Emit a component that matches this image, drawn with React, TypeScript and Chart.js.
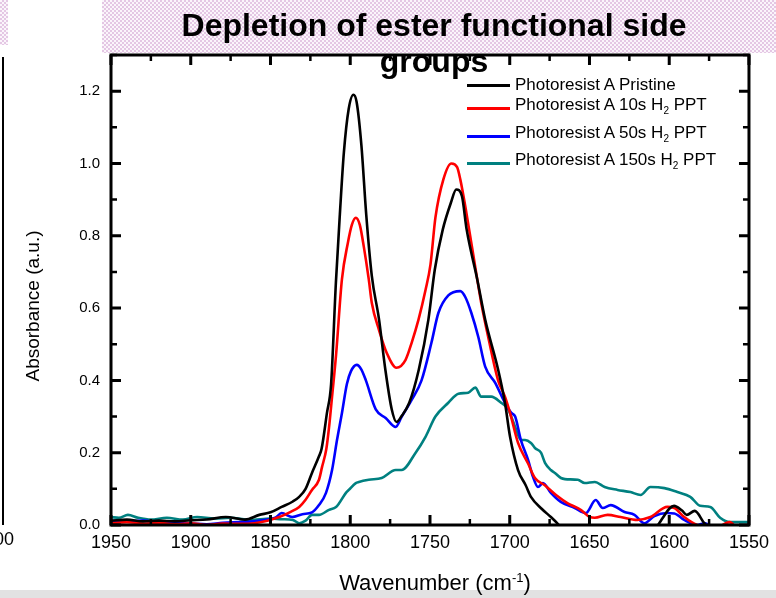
import React, { useEffect, useRef } from "react";
import { Chart, registerables } from "chart.js";

Chart.register(...registerables);

// ---- data (wavenumber cm^-1, absorbance a.u.) ----
const pristineWn = [
  1950, 1940, 1930, 1920, 1910, 1900, 1890, 1878, 1866, 1857,
  1850, 1843, 1836, 1832, 1828, 1824, 1819.6, 1818, 1814.6, 1812,
  1809, 1806.5, 1804, 1801, 1798, 1796, 1793, 1790, 1786.5, 1782,
  1778, 1774, 1771, 1768, 1763, 1757, 1751, 1747, 1742, 1737,
  1733.5, 1730, 1727, 1720.4, 1715.4, 1707.3, 1703, 1699.8, 1694.8, 1690,
  1686.7, 1680, 1674.2, 1670, 1665, 1640, 1615, 1608, 1604, 1600,
  1597, 1592, 1589, 1584, 1578, 1572, 1550,
];
const pristineAbs = [
  0.012, 0.015, 0.01, 0.012, 0.01, 0.013, 0.015, 0.022, 0.015, 0.028,
  0.035, 0.05, 0.065, 0.078, 0.1, 0.144, 0.19, 0.21, 0.31, 0.39,
  0.67, 0.86, 1.03, 1.15, 1.19, 1.17, 1.05, 0.86, 0.69, 0.57,
  0.43, 0.32, 0.285, 0.3, 0.338, 0.43, 0.568, 0.706, 0.817, 0.89,
  0.928, 0.91, 0.817, 0.68, 0.568, 0.43, 0.338, 0.244, 0.152, 0.11,
  0.078, 0.045, 0.022, 0.004, -0.02, -0.03, -0.02, -0.005, 0.02, 0.045,
  0.053, 0.04, 0.028, 0.039, 0.005, -0.02, -0.03,
];

const h10Wn = [
  1950, 1940, 1930, 1920, 1910, 1900, 1890, 1880, 1870, 1860,
  1852, 1844.5, 1838, 1832, 1828, 1824, 1819.6, 1817.7, 1815, 1813.3,
  1811.4, 1808.9, 1805.2, 1801.5, 1799, 1796.5, 1794, 1791.5, 1788.4, 1786.5,
  1782, 1777.1, 1771, 1765.3, 1761.5, 1757.2, 1752.8, 1749.7, 1746.6, 1741.6,
  1736.6, 1733, 1731, 1727.2, 1720.4, 1717.9, 1713.5, 1707.3, 1703, 1699.8,
  1694.8, 1688.5, 1684.2, 1678, 1671, 1663.6, 1655.5, 1649.8, 1646.7, 1638.6,
  1630.5, 1620, 1611.8, 1601.2, 1596.8, 1590.6, 1582.5, 1572, 1562, 1557,
  1550,
];
const h10Abs = [
  0.005, 0.008, 0.004, 0.006, 0.002, 0.005, 0.0, 0.004, 0.003, 0.005,
  0.012, 0.022, 0.035, 0.05, 0.07, 0.097, 0.125, 0.16, 0.21, 0.27,
  0.355, 0.47, 0.68, 0.78, 0.83, 0.85, 0.83, 0.77, 0.68, 0.615,
  0.54, 0.476, 0.435, 0.457, 0.504, 0.568, 0.65, 0.72, 0.85, 0.956,
  1.0, 0.99, 0.956, 0.864, 0.68, 0.615, 0.52, 0.4, 0.355, 0.31,
  0.227, 0.17, 0.13, 0.11, 0.083, 0.06, 0.042, 0.022, 0.02, 0.028,
  0.022, 0.014, 0.022, 0.05, 0.047, 0.022, 0.0, -0.01, 0.008, -0.01,
  -0.01,
];

const h50Wn = [
  1950, 1940, 1930, 1920, 1910, 1900, 1890, 1880, 1870, 1860,
  1852, 1847, 1843, 1836.4, 1830, 1824, 1819.6, 1815.2, 1811.4, 1808.3,
  1805.2, 1802.1, 1799.6, 1795.9, 1793, 1790.2, 1784, 1777.8, 1771.5, 1767.8,
  1761.5, 1755.3, 1749.1, 1744.7, 1738.5, 1731, 1727.8, 1724.1, 1719.7, 1715.4,
  1709.1, 1703, 1699, 1696.6, 1693, 1688.5, 1685.4, 1682.3, 1679.2, 1674.2,
  1668, 1659.2, 1652.3, 1646.1, 1641.7, 1636.7, 1628, 1621.8, 1615.5, 1609.3,
  1601.2, 1596.8, 1590.6, 1582.5, 1577.5, 1572, 1550,
];
const h50Abs = [
  0.012, 0.01, 0.012, 0.008, 0.006, 0.004, 0.002, 0.006, 0.008, 0.01,
  0.015, 0.02, 0.033, 0.022, 0.03, 0.035, 0.055, 0.089, 0.152, 0.235,
  0.31, 0.39, 0.425, 0.443, 0.43, 0.4, 0.32, 0.296, 0.271, 0.299,
  0.346, 0.4, 0.504, 0.587, 0.635, 0.647, 0.63, 0.587, 0.52, 0.438,
  0.393, 0.338, 0.31, 0.3, 0.235, 0.18, 0.133, 0.105, 0.116, 0.089,
  0.064, 0.047, 0.033, 0.069, 0.047, 0.055, 0.036, 0.028, 0.005, 0.025,
  0.033, 0.032, 0.014, 0.0, 0.005, -0.01, -0.02,
];

const h150Wn = [
  1950, 1945, 1939.4, 1933, 1925, 1915, 1905, 1896, 1885, 1875,
  1863, 1850, 1843, 1836, 1832, 1828, 1824, 1819.6, 1813.3, 1808.9,
  1807, 1802.7, 1800.9, 1796.5, 1794.6, 1788.4, 1780.3, 1771.5, 1767.8, 1759,
  1752.8, 1746.6, 1738.5, 1732.2, 1726, 1721.6, 1717.9, 1711.6, 1705.4, 1701,
  1696.6, 1692.9, 1690.4, 1686.7, 1684.2, 1680.4, 1677.9, 1674.2, 1671.7, 1667.9,
  1665.4, 1657.3, 1653, 1646.7, 1640.5, 1632.4, 1624.3, 1618, 1611.8, 1603,
  1594.9, 1586.8, 1580.6, 1574.3, 1568.1, 1561.9, 1553.1, 1550,
];
const h150Abs = [
  0.022, 0.02, 0.028, 0.02, 0.015, 0.02, 0.015, 0.022, 0.018, 0.02,
  0.014, 0.018, 0.016, 0.014, 0.005, 0.012, 0.028, 0.028, 0.042, 0.05,
  0.06, 0.089, 0.097, 0.116, 0.119, 0.125, 0.13, 0.152, 0.152, 0.2,
  0.244, 0.3, 0.338, 0.363, 0.366, 0.38, 0.355, 0.355, 0.338, 0.32,
  0.271, 0.235, 0.235, 0.227, 0.213, 0.2, 0.172, 0.152, 0.144, 0.13,
  0.127, 0.125, 0.116, 0.119, 0.105, 0.097, 0.091, 0.083, 0.105, 0.102,
  0.091, 0.078, 0.053, 0.05, 0.02, 0.008, 0.008, 0.008,
];

const xMajorTicks = [1950, 1900, 1850, 1800, 1750, 1700, 1650, 1600, 1550];
const yMajorTicks = [0, 0.2, 0.4, 0.6, 0.8, 1.0, 1.2];

const seriesLabels = [
  "Photoresist A Pristine",
  "Photoresist A 10s H2 PPT",
  "Photoresist A 50s H2 PPT",
  "Photoresist A 150s H2 PPT",
];
const seriesColors = ["#000000", "#ff0000", "#0000ff", "#008080"];

const FONT = '"Liberation Sans", Arial, Helvetica, sans-serif';

function zip(xs: number[], ys: number[]) {
  const n = Math.min(xs.length, ys.length);
  const out: { x: number; y: number }[] = [];
  for (let i = 0; i < n; i++) out.push({ x: xs[i], y: ys[i] });
  return out;
}

const frameTicksPlugin = {
  id: "frameTicks",
  afterDatasetsDraw(chart: any) {
    const { ctx, chartArea, scales } = chart;
    const { left, right, top, bottom } = chartArea;
    const x = scales.x;
    const y = scales.y;
    ctx.save();
    ctx.strokeStyle = "#000";
    ctx.lineCap = "butt";
    const drawX = (v: number, len: number, w: number) => {
      const p = x.getPixelForValue(v);
      ctx.lineWidth = w;
      ctx.beginPath();
      ctx.moveTo(p, bottom);
      ctx.lineTo(p, bottom - len);
      ctx.moveTo(p, top);
      ctx.lineTo(p, top + len);
      ctx.stroke();
    };
    const drawY = (v: number, len: number, w: number) => {
      const p = y.getPixelForValue(v);
      ctx.lineWidth = w;
      ctx.beginPath();
      ctx.moveTo(left, p);
      ctx.lineTo(left + len, p);
      ctx.moveTo(right, p);
      ctx.lineTo(right - len, p);
      ctx.stroke();
    };
    for (let i = 0; i < xMajorTicks.length; i++) {
      drawX(xMajorTicks[i], 10, 3);
      if (i + 1 < xMajorTicks.length)
        drawX((xMajorTicks[i] + xMajorTicks[i + 1]) / 2, 6, 2.5);
    }
    for (let i = 0; i < yMajorTicks.length; i++) {
      drawY(yMajorTicks[i], 10, 3);
      const next = i + 1 < yMajorTicks.length ? yMajorTicks[i + 1] : yMajorTicks[i] + 0.2;
      const mid = (yMajorTicks[i] + next) / 2;
      if (mid < y.max) drawY(mid, 6, 2.5);
    }
    ctx.lineWidth = 3;
    ctx.strokeRect(left, top, right - left, bottom - top);
    ctx.restore();
  },
};

function ChartCanvas() {
  const ref = useRef<HTMLCanvasElement | null>(null);
  useEffect(() => {
    if (!ref.current) return;
    const data = [
      zip(pristineWn, pristineAbs),
      zip(h10Wn, h10Abs),
      zip(h50Wn, h50Abs),
      zip(h150Wn, h150Abs),
    ];
    const chart = new Chart(ref.current, {
      type: "line",
      data: {
        datasets: data.map((d, i) => ({
          label: seriesLabels[i],
          data: d,
          borderColor: seriesColors[i],
          backgroundColor: seriesColors[i],
          borderWidth: 2.6,
          pointRadius: 0,
          cubicInterpolationMode: "monotone",
          fill: false,
        })),
      },
      options: {
        animation: false,
        responsive: false,
        maintainAspectRatio: false,
        layout: { padding: { top: 55, right: 24, left: 0, bottom: 0 } },
        plugins: {
          legend: { display: false },
          tooltip: { enabled: false },
          title: { display: false },
        },
        scales: {
          x: {
            type: "linear",
            reverse: true,
            min: 1550,
            max: 1950,
            grid: { display: false, drawTicks: false },
            border: { display: false },
            ticks: {
              color: "#000",
              font: { family: FONT, size: 18 },
              padding: 7,
              maxRotation: 0,
              autoSkip: false,
              callback: (v: any) => String(v),
            },
            afterBuildTicks: (s: any) => {
              s.ticks = xMajorTicks.map((v) => ({ value: v }));
            },
            afterFit: (s: any) => {
              s.height = 73;
            },
          },
          y: {
            type: "linear",
            min: 0,
            max: 1.3,
            grid: { display: false, drawTicks: false },
            border: { display: false },
            ticks: {
              color: "#000",
              font: { family: FONT, size: 15 },
              padding: 11,
              callback: (v: any) => Number(v).toFixed(1),
            },
            afterBuildTicks: (s: any) => {
              s.ticks = yMajorTicks.map((v) => ({ value: v }));
            },
            afterFit: (s: any) => {
              s.width = 111;
            },
          },
        },
      },
      plugins: [frameTicksPlugin],
    } as any);
    return () => chart.destroy();
  }, []);
  return (
    <canvas
      ref={ref}
      width={776}
      height={598}
      style={{ position: "absolute", left: 0, top: 0, width: 776, height: 598 }}
    />
  );
}

function LegendRow({ y, color, main, sub, tail }: { y: number; color: string; main: string; sub?: string; tail?: string }) {
  return (
    <div style={{ position: "absolute", left: 467, top: y - 11, height: 22, display: "flex", alignItems: "center", whiteSpace: "nowrap" }}>
      <div style={{ width: 43, height: 3, background: color }} />
      <div style={{ marginLeft: 5, fontSize: 17, color: "#000", lineHeight: "22px" }}>
        {main}
        {sub ? <sub style={{ fontSize: 10, verticalAlign: "-4px" }}>{sub}</sub> : null}
        {tail}
      </div>
    </div>
  );
}

export default function App() {
  const lavender = {
    backgroundColor: "#f6ecf6",
    backgroundImage:
      "repeating-conic-gradient(#e4c7e4 0% 25%, #fbf5fb 0% 50%)",
    backgroundSize: "4px 4px",
  } as React.CSSProperties;
  return (
    <div
      style={{
        position: "fixed",
        left: 0,
        top: 0,
        width: 776,
        height: 598,
        background: "#fff",
        overflow: "hidden",
        fontFamily: FONT,
      }}
    >
      <div style={{ position: "absolute", left: 102, top: 0, width: 674, height: 53, ...lavender }} />
      <div style={{ position: "absolute", left: 0, top: 0, width: 8, height: 45, ...lavender }} />
      <div style={{ position: "absolute", left: 2, top: 57, width: 2, height: 468, background: "#000" }} />
      <div style={{ position: "absolute", left: 0, top: 590, width: 776, height: 8, background: "#e2e2e2" }} />
      <ChartCanvas />
      <div
        style={{
          position: "absolute",
          left: 134,
          top: 7,
          width: 600,
          textAlign: "center",
          fontWeight: "bold",
          fontSize: 32,
          lineHeight: "36px",
          color: "#000",
          whiteSpace: "nowrap",
        }}
      >
        Depletion of ester functional side
        <br />
        groups
      </div>
      <LegendRow y={85} color={seriesColors[0]} main="Photoresist A Pristine" />
      <LegendRow y={108} color={seriesColors[1]} main="Photoresist A 10s H" sub="2" tail=" PPT" />
      <LegendRow y={136} color={seriesColors[2]} main="Photoresist A 50s H" sub="2" tail=" PPT" />
      <LegendRow y={163} color={seriesColors[3]} main="Photoresist A 150s H" sub="2" tail=" PPT" />
      <div
        style={{
          position: "absolute",
          left: 33 - 100,
          top: 306 - 12,
          width: 200,
          height: 24,
          lineHeight: "24px",
          textAlign: "center",
          fontSize: 19,
          color: "#000",
          transform: "rotate(-90deg)",
          whiteSpace: "nowrap",
        }}
      >
        Absorbance (a.u.)
      </div>
      <div
        style={{
          position: "absolute",
          left: 285,
          top: 565,
          width: 300,
          textAlign: "center",
          fontSize: 22,
          lineHeight: "26px",
          color: "#000",
          whiteSpace: "nowrap",
        }}
      >
        Wavenumber (cm<sup style={{ fontSize: 13, verticalAlign: "8px" }}>-1</sup>)
      </div>
      <div
        style={{
          position: "absolute",
          left: -6,
          top: 529,
          fontSize: 18,
          lineHeight: "20px",
          color: "#000",
        }}
      >
        00
      </div>
    </div>
  );
}
